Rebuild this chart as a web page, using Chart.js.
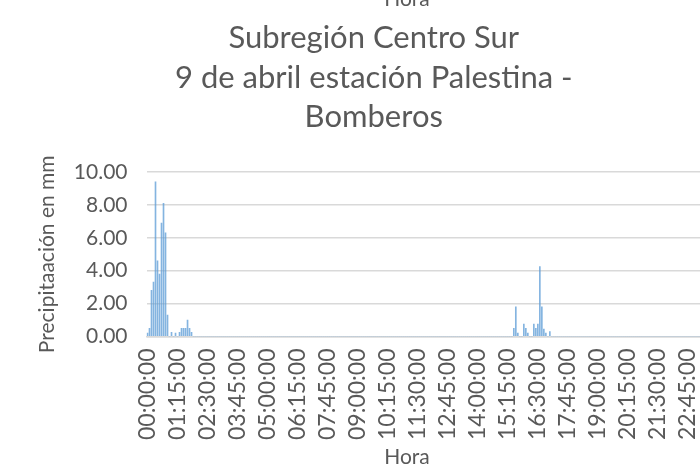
<!DOCTYPE html>
<html><head><meta charset="utf-8">
<script src="https://cdn.jsdelivr.net/npm/chart.js@4/dist/chart.umd.min.js"></script>
<style>
html,body{margin:0;padding:0;background:#fff;overflow:hidden;width:700px;height:470px}
#wrap{position:relative;width:700px;height:470px;overflow:hidden}
canvas{position:absolute;left:0;top:0}
</style></head><body>
<div id="wrap"><canvas id="c" width="748" height="470"></canvas></div>
<script>
const titleLines = ['Subregión Centro Sur', '9 de abril estación Palestina -', 'Bomberos'];
const topText = 'Hora';
const yTitle = 'Precipitaación en mm';
const xTitle = 'Hora';
const yMin = 0, yMax = 10, yStep = 2;
const labelEvery = 15;
const missingTimes = ['07:00:00', '07:05:00', '07:10:00'];

// 5-minute time categories (a few records are absent in the source series)
const times = [];
for (let h = 0; h < 24; h++) for (let m = 0; m < 60; m += 5) {
  const t = String(h).padStart(2,'0') + ':' + String(m).padStart(2,'0') + ':00';
  if (!missingTimes.includes(t)) times.push(t);
}

// precipitation (mm) per record, one row per 15 records (row starts at the labelled time)
const precip = [
 0.2,0.5,2.8,3.3,9.4,4.6,3.8,6.9,8.1,6.3,1.3,0,0.25,0,0.2,        // 00:00:00
 0,0.25,0.5,0.5,0.5,1.0,0.5,0.25,0,0,0,0,0,0,0,                   // 01:15:00
 0,0,0,0,0,0,0,0,0,0,0,0,0,0,0,                                   // 02:30:00
 0,0,0,0,0,0,0,0,0,0,0,0,0,0,0,                                   // 03:45:00
 0,0,0,0,0,0,0,0,0,0,0,0,0,0,0,                                   // 05:00:00
 0,0,0,0,0,0,0,0,0,0,0,0,0,0,0,                                   // 06:15:00
 0,0,0,0,0,0,0,0,0,0,0,0,0,0,0,                                   // 07:45:00
 0,0,0,0,0,0,0,0,0,0,0,0,0,0,0,                                   // 09:00:00
 0,0,0,0,0,0,0,0,0,0,0,0,0,0,0,                                   // 10:15:00
 0,0,0,0,0,0,0,0,0,0,0,0,0,0,0,                                   // 11:30:00
 0,0,0,0,0,0,0,0,0,0,0,0,0,0,0,                                   // 12:45:00
 0,0,0,0,0,0,0,0,0,0,0,0,0,0,0,                                   // 14:00:00
 0,0,0,0.5,1.8,0.2,0,0,0.75,0.5,0.2,0,0,0.75,0.5,                 // 15:15:00
 0.75,4.25,1.8,0.45,0.2,0,0.3,0,0,0,0,0,0,0,0,                    // 16:30:00
 0,0,0,0,0,0,0,0,0,0,0,0,0,0,0,                                   // 17:45:00
 0,0,0,0,0,0,0,0,0,0,0,0,0,0,0,                                   // 19:00:00
 0,0,0,0,0,0,0,0,0,0,0,0,0,0,0,                                   // 20:15:00
 0,0,0,0,0,0,0,0,0,0,0,0,0,0,0,                                   // 21:30:00
 0,0,0,0,0,0,0,0,0,0,0,0,0,0,0                                    // 22:45:00
];

const FONT = 'Lato';
const GREY = '#595959';

const axisTextPlugin = {
  id: 'axisText',
  afterDraw(chart) {
    const ctx = chart.ctx;
    const area = chart.chartArea;
    ctx.save();
    ctx.font = '21px ' + FONT;
    ctx.fillStyle = GREY;
    ctx.textAlign = 'center';
    ctx.textBaseline = 'alphabetic';
    ctx.fillText(topText, 407, 6);
    ctx.fillText(xTitle, 407, 464);
    ctx.translate(47, (area.top + area.bottom) / 2);
    ctx.rotate(-Math.PI / 2);
    ctx.textBaseline = 'middle';
    ctx.fillText(yTitle, 0, 0);
    ctx.restore();
  }
};

new Chart(document.getElementById('c'), {
  type: 'bar',
  data: {
    labels: times,
    datasets: [{
      data: precip,
      backgroundColor: 'rgba(91,155,213,0.75)',
      barThickness: 1,
      borderWidth: 0
    }]
  },
  options: {
    responsive: false,
    animation: false,
    devicePixelRatio: 1,
    layout: { padding: { left: 30.5, right: 31, top: 0, bottom: 18 } },
    plugins: {
      legend: { display: false },
      tooltip: { enabled: false },
      title: {
        display: true,
        text: titleLines,
        color: GREY,
        font: { family: FONT, size: 31, weight: 'normal', lineHeight: 1.28 },
        padding: { top: 18, bottom: 35 }
      }
    },
    scales: {
      x: {
        grid: { display: false, drawTicks: false },
        border: { display: true, color: '#d9d9d9', width: 1.5 },
        ticks: {
          autoSkip: false,
          minRotation: 90, maxRotation: 90,
          padding: 12,
          color: GREY,
          font: { family: FONT, size: 23 },
          callback: (v, i) => (i % labelEvery === 0 ? times[i] : null)
        }
      },
      y: {
        min: yMin, max: yMax,
        afterFit: s => { s.width = 116; },
        grid: { color: '#d9d9d9', lineWidth: 1.5, drawTicks: false },
        border: { display: false },
        ticks: {
          stepSize: yStep,
          padding: 19,
          color: GREY,
          font: { family: FONT, size: 21 },
          callback: v => Number(v).toFixed(2)
        }
      }
    }
  },
  plugins: [axisTextPlugin]
});
</script>
</body></html>
